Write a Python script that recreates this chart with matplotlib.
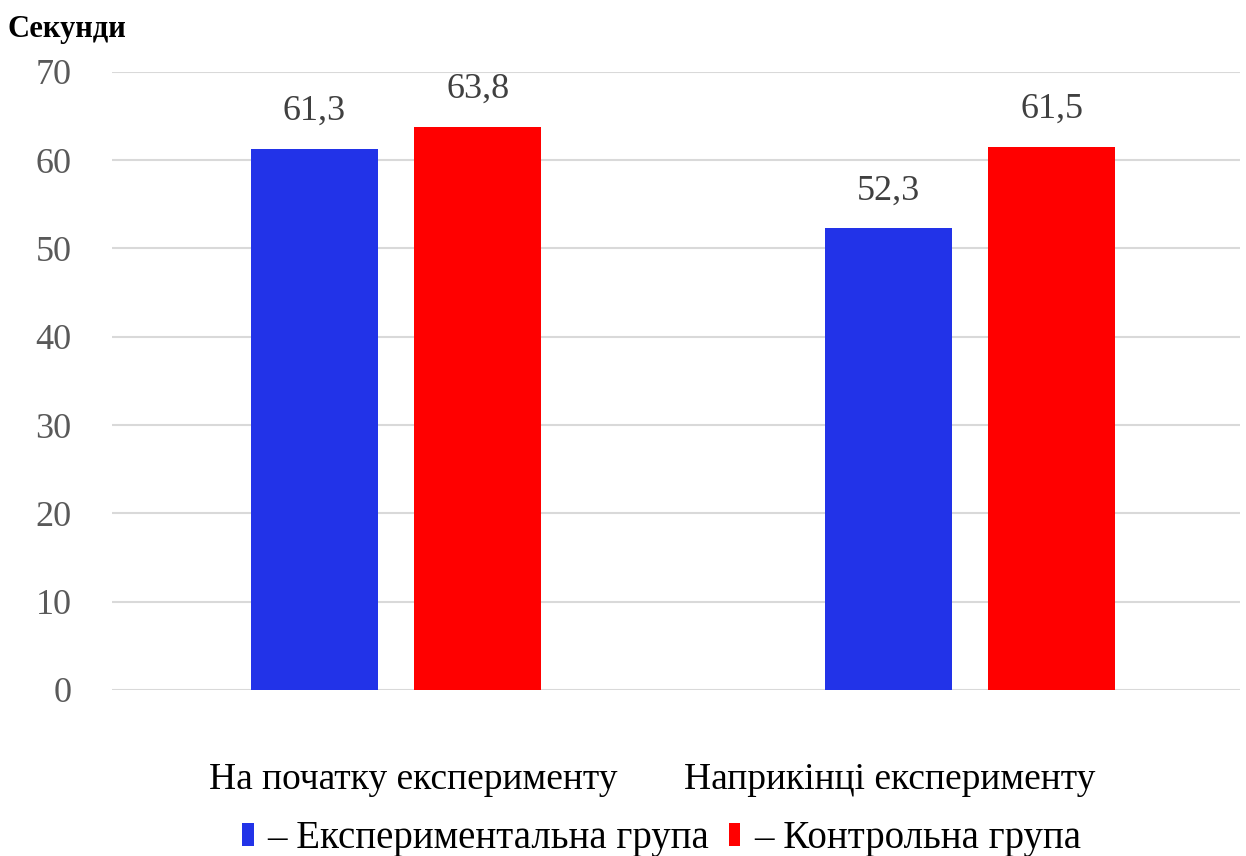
import numpy as np
import matplotlib.pyplot as plt

# Data
categories = ["На початку експерименту", "Наприкінці експерименту"]
series_names = ["Експериментальна група", "Контрольна група"]
exp_group = [61.3, 52.3]
ctrl_group = [63.8, 61.5]
y_ticks = [0, 10, 20, 30, 40, 50, 60, 70]

plt.rcParams['font.family'] = ['Liberation Serif', 'DejaVu Serif']

fig = plt.figure(figsize=(12.46, 8.56), dpi=100)
ax = fig.add_axes([0.0899, 0.194, 0.905, 0.722])

x = np.arange(len(categories))
width = 0.221
offset = 0.1424

b1 = ax.bar(x - offset, exp_group, width, color='#2233E8', zorder=3,
            label="– " + series_names[0])
b2 = ax.bar(x + offset, ctrl_group, width, color='#FF0000', zorder=3,
            label="– " + series_names[1])

# value labels with comma decimal separator
for bars in (b1, b2):
    for rect in bars:
        h = rect.get_height()
        ax.annotate(f"{h:.1f}".replace('.', ','),
                    (rect.get_x() + rect.get_width() / 2, h),
                    xytext=(0, 15), textcoords='offset points',
                    ha='center', va='bottom', fontsize=26, color='#404040')

ax.set_ylim(0, 70)
ax.set_xlim(-0.495, 1.47)
ax.set_yticks(y_ticks)
ax.tick_params(axis='y', length=0, pad=29, labelsize=26, labelcolor='#595959')
ax.yaxis.grid(True, color='#d9d9d9', linewidth=1.5, zorder=0)
ax.set_axisbelow(True)
for s in ax.spines.values():
    s.set_visible(False)

# category labels sit a bit off the group centres in the original
label_shift = [0.03, -0.14]
ax.set_xticks(x + np.array(label_shift))
ax.set_xticklabels(categories, fontsize=27)
ax.tick_params(axis='x', length=0, pad=52)

fig.text(0.006, 0.965, "Секунди", fontsize=22, fontweight='bold',
         ha='left', va='center')

fig.legend(handles=[b1, b2], loc='center', bbox_to_anchor=(0.531, 0.02),
           ncol=2, frameon=False, fontsize=28, handlelength=0.3,
           handleheight=0.5, handletextpad=0.35, columnspacing=0.5,
           borderpad=0)

fig.savefig("out.png", dpi=100)
